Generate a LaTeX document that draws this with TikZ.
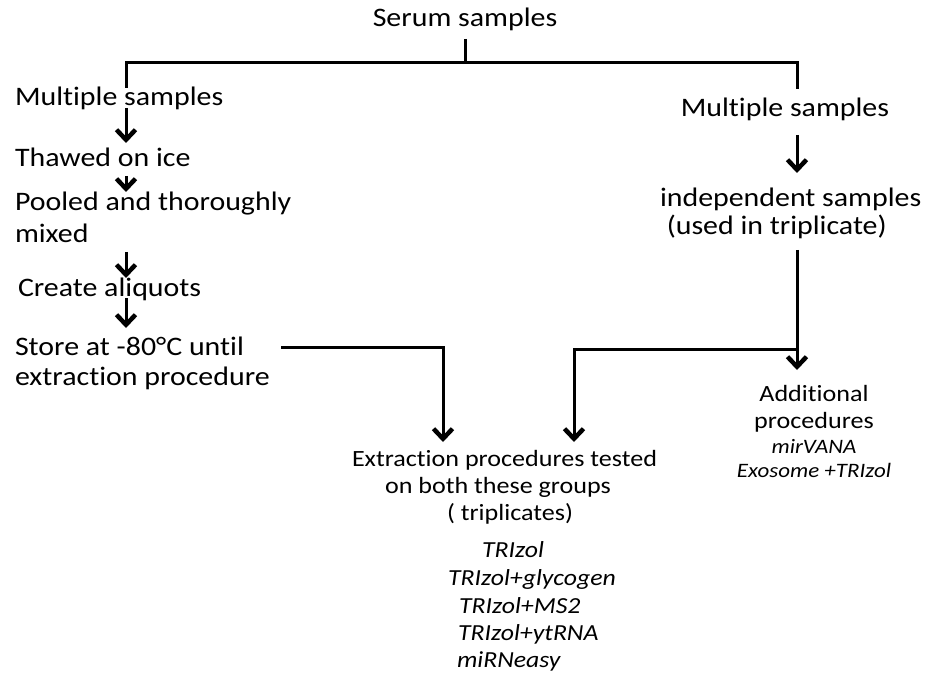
\documentclass[tikz,border=0pt]{standalone}
\usepackage{fontspec}
\setmainfont{Carlito}[FakeStretch=1.12, Ligatures=NoCommon]
\usetikzlibrary{arrows.meta}
\tikzset{
  txt/.style={inner sep=0pt, outer sep=0pt, align=left, font=\fontsize{26.7}{#1}\selectfont},
  txt/.default=32,
  sml/.style={inner sep=0pt, outer sep=0pt, align=left, font=\fontsize{23.3}{27}\selectfont},
  itl/.style={inner sep=0pt, outer sep=0pt, font=\fontsize{23}{27}\selectfont\itshape},
  itr/.style={inner sep=0pt, outer sep=0pt, font=\fontsize{20.5}{24}\selectfont\itshape},
  ln/.style={line width=3pt, line join=miter},
  arr/.style={ln, -{Straight Barb[length=10pt,width=19pt,line width=4.5pt]}},
}
\begin{document}
\begin{tikzpicture}[x=1pt,y=-1pt]
\useasboundingbox (0,0) rectangle (934,676);
% columns
\coordinate (colL) at (126,0);
\coordinate (colR) at (797,0);
\coordinate (bar) at (0,63);
\coordinate (j) at (0,349);
\coordinate (s1) at (281,347);
\coordinate (colA) at (443,0);
\coordinate (colB) at (574,0);

\node[txt, anchor=base] (serum) at (465,27) {Serum samples};
\node[txt, anchor=base west] (ms1) at (15,106) {Multiple samples};
\node[txt, anchor=base west] (thaw) at (15,167) {Thawed on ice};
\node[txt=32, anchor=base west] (pool) at (15,243) {Pooled and thoroughly\\mixed};
\node[txt, anchor=base west] (create) at (18,297) {Create aliquots};
\node[txt=30, anchor=base west] (store) at (15,385) {Store at -80°C until\\extraction procedure};

\node[txt, anchor=base] (ms2) at (785,117) {Multiple samples};
\node[txt=28, anchor=base west] (indep) at (660,235) {independent samples\\\ (used in triplicate)};

\node[sml, anchor=base west] (ext) at (352,493) {Extraction procedures tested\\\hspace*{33pt}on both these groups};
\node[sml, anchor=base west] (trip) at (447,520) {( triplicates)};
\node[itl, anchor=base west] (t1) at (482,557) {TRIzol};
\node[itl, anchor=base west] (t2) at (448,585) {TRIzol+glycogen};
\node[itl, anchor=base west] (t3) at (459,613) {TRIzol+MS2};
\node[itl, anchor=base west] (t4) at (458,640) {TRIzol+ytRNA};
\node[itl, anchor=base west] (t5) at (457,667) {miRNeasy};

\node[sml, anchor=base, align=center] (add) at (814,428) {Additional\\procedures};
\node[itr, anchor=base] (mv) at (814,453) {mirVANA};
\node[itr, anchor=base] (exo) at (814,477) {Exosome +TRIzol};

% top bracket
\draw[ln] (serum.south |- 0,39) -- (serum.south |- bar);
\draw[ln] (colL |- 0,88) -- (colL |- bar) -- (colR |- bar) -- (colR |- 0,89);

% left column arrows
\draw[arr] (colL |- 0,108) -- (colL |- 0,143);
\draw[arr] (colL |- 0,176) -- (colL |- 0,192);
\draw[arr] (colL |- 0,252) -- (colL |- 0,278);
\draw[arr] (colL |- 0,298) -- (colL |- 0,328);

% right column arrows
\draw[arr] (colR |- 0,135) -- (colR |- 0,173);
\draw[arr] (colR |- 0,250) -- (colR |- 0,370);

% to extraction
\draw[arr] (s1) -| (colA |- 0,442);
\draw[arr] (colR |- j) -| (colB |- 0,442);
\end{tikzpicture}
\end{document}
